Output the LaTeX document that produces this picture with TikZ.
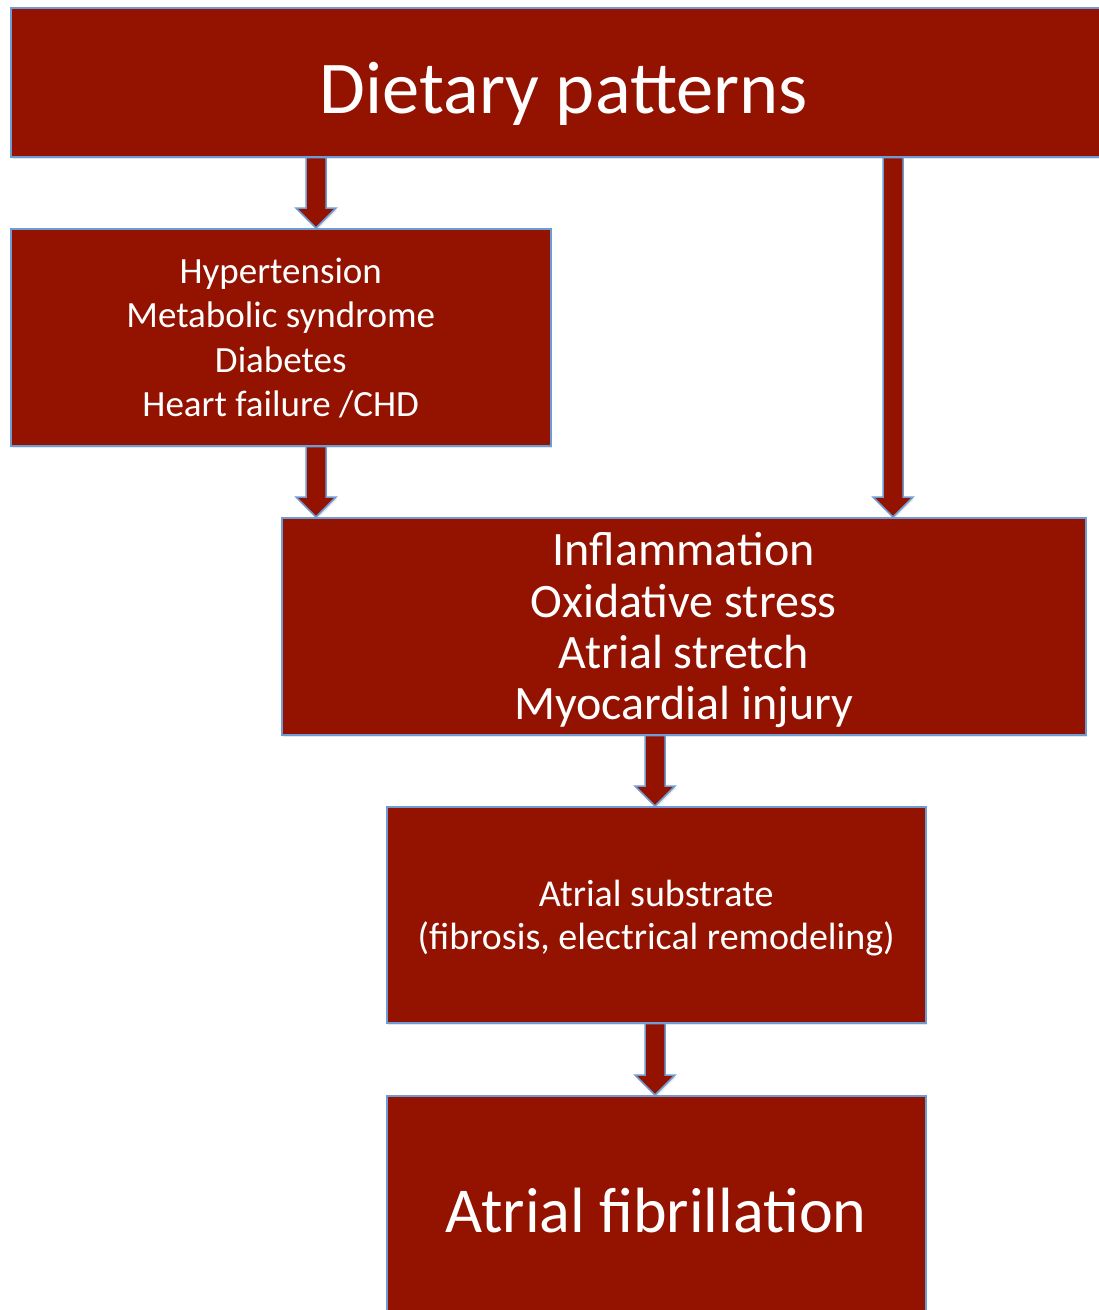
\documentclass[tikz,border=0pt]{standalone}
\usepackage{fontspec}
\setmainfont{Carlito}
\usetikzlibrary{calc,shadows}
\definecolor{boxred}{RGB}{148,18,0}
\definecolor{edgeblue}{RGB}{110,155,212}
\def\blockarrow(#1)(#2){\draw[arrowbox] ($(#1)+(-10pt,0)$) -- ($(#2)+(-10pt,20pt)$) -- ($(#2)+(-20pt,20pt)$) -- (#2) -- ($(#2)+(20pt,20pt)$) -- ($(#2)+(10pt,20pt)$) -- ($(#1)+(10pt,0)$) -- cycle;}

\begin{document}
\begin{tikzpicture}[
	redbox/.style={draw=edgeblue, line width=1.5pt, fill=boxred, text=white, align=center,
		anchor=north west, inner sep=0pt, text depth=0pt,
		drop shadow={shadow xshift=1pt, shadow yshift=-2pt, opacity=0.2}},
	arrowbox/.style={draw=edgeblue, line width=1.5pt, fill=boxred, line join=miter,
		drop shadow={shadow xshift=1pt, shadow yshift=-2pt, opacity=0.2}}
	]
		%%%%% START %%%%%
		\useasboundingbox (0, 0) rectangle (1099pt, -1310pt);
		\clip (0, 0) rectangle (1099pt, -1310pt);
		
		\node[redbox, minimum width=1106pt, minimum height=149pt, text height=62pt,
			font=\fontsize{74.5}{80}\selectfont] (diet) at (10pt, -7pt) {Dietary patterns};
		
		\node[redbox, minimum width=540pt, minimum height=217pt,
			font=\fontsize{37}{44.3}\selectfont] (risk) at (10pt, -228pt)
			{Hypertension\\Metabolic syndrome\\Diabetes\\Heart failure /CHD};
		
		\node[redbox, minimum width=804pt, minimum height=217pt,
			font=\fontsize{48}{51.3}\selectfont] (mech) at (281pt, -517pt)
			{Inflammation\\Oxidative stress\\Atrial stretch\\Myocardial injury};
		
		\node[redbox, minimum width=539pt, minimum height=216pt,
			font=\fontsize{38}{43}\selectfont] (subst) at (386pt, -806pt)
			{Atrial substrate\\(fibrosis, electrical remodeling)};
		
		\node[redbox, minimum width=539pt, minimum height=230pt,
			font=\fontsize{64}{70}\selectfont] (af) at (386pt, -1095pt) {Atrial fibrillation};
		
		\coordinate (xleft) at (316pt, 0);
		\coordinate (xright) at (893pt, 0);
		\coordinate (xmid) at (655pt, 0);
		
		\blockarrow(diet.south -| xleft)(risk.north -| xleft)
		\blockarrow(risk.south -| xleft)(mech.north -| xleft)
		\blockarrow(diet.south -| xright)(mech.north -| xright)
		\blockarrow(mech.south -| xmid)(subst.north -| xmid)
		\blockarrow(subst.south -| xmid)(af.north -| xmid)
		%%%%% END %%%%%
	\end{tikzpicture}
\end{document}
